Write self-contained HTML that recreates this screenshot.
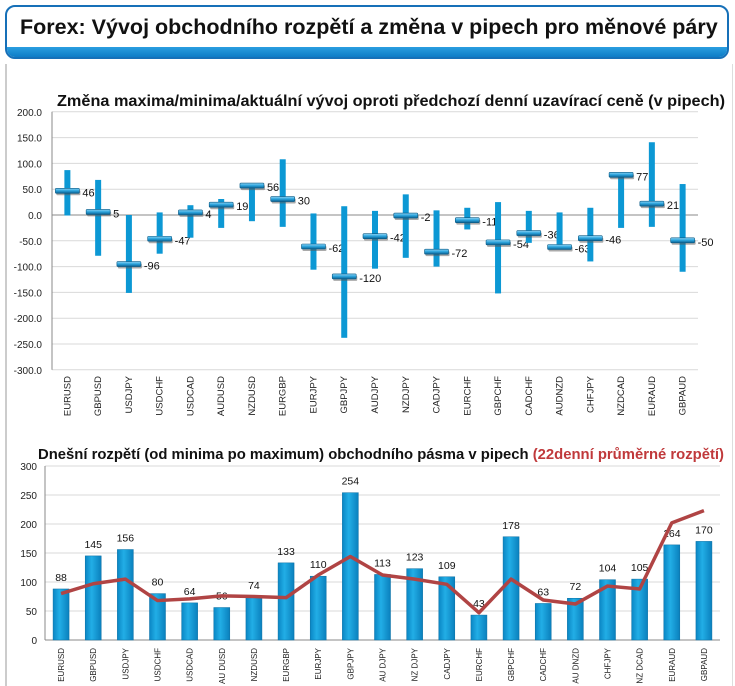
<!DOCTYPE html>
<html><head><meta charset="utf-8">
<style>
body{margin:0;width:735px;height:686px;background:#fff;font-family:"Liberation Sans",sans-serif;overflow:hidden;position:relative}
#hdr{position:absolute;left:5px;top:5px;width:720px;height:50px;border:2px solid #1670b8;border-radius:10px;overflow:hidden;background:#fff}
#hdr .strip{position:absolute;left:0;right:0;bottom:0;height:10px;background:linear-gradient(#2a9ee0,#0d7cc6)}
#hdr .t{position:absolute;left:13px;top:8px;font-size:21.5px;font-weight:bold;color:#111;white-space:nowrap}
#panel{position:absolute;left:5px;top:64px;width:725px;height:622px;border-left:2px solid #ccc;border-right:1px solid #ddd}
svg{position:absolute;left:0;top:0}
</style></head><body>
<div id="hdr"><div class="strip"></div><div class="t">Forex: Vývoj obchodního rozpětí a změna v pipech pro měnové páry</div></div>
<div id="panel"></div>
<svg id="c" width="735" height="686">
<defs>
<linearGradient id="mk" x1="0" y1="0" x2="0" y2="1"><stop offset="0" stop-color="#8fd4f5"/><stop offset="0.5" stop-color="#2aa3dc"/><stop offset="1" stop-color="#0b5f8f"/></linearGradient>
<linearGradient id="bg" x1="0" y1="0" x2="1" y2="0"><stop offset="0" stop-color="#0a86c4"/><stop offset="0.4" stop-color="#22aee6"/><stop offset="1" stop-color="#0a80bd"/></linearGradient>
</defs>
<text x="57" y="106" font-size="16" font-weight="bold" fill="#111" textLength="668" lengthAdjust="spacingAndGlyphs">Změna maxima/minima/aktuální vývoj oproti předchozí denní uzavírací ceně (v pipech)</text>
<text x="38" y="459" font-size="15" font-weight="bold" fill="#111" textLength="686" lengthAdjust="spacingAndGlyphs">Dnešní rozpětí (od minima po maximum) obchodního pásma v pipech <tspan fill="#c0393b">(22denní průměrné rozpětí)</tspan></text>
</svg>
<script>
const cats=["EURUSD","GBPUSD","USDJPY","USDCHF","USDCAD","AUDUSD","NZDUSD","EURGBP","EURJPY","GBPJPY","AUDJPY","NZDJPY","CADJPY","EURCHF","GBPCHF","CADCHF","AUDNZD","CHFJPY","NZDCAD","EURAUD","GBPAUD"];
const highs=[87,68,0,5,19,31,56,108,3,17,8,40,9,14,25,8,5,14,79,141,60];
const lows=[-1,-79,-151,-75,-44,-25,-12,-23,-106,-238,-104,-83,-100,-28,-152,-54,-63,-90,-25,-23,-110];
const current=[46,5,-96,-47,4,19,56,30,-62,-120,-42,-2,-72,-11,-54,-36,-63,-46,77,21,-50];
const topTicks=[200,150,100,50,0,-50,-100,-150,-200,-250,-300];
const cats2=["EURUSD","GBPUSD","USDJPY","USDCHF","USDCAD","AU DUSD","NZDUSD","EURGBP","EURJPY","GBPJPY","AU DJPY","NZ DJPY","CADJPY","EURCHF","GBPCHF","CADCHF","AU DNZD","CHFJPY","NZ DCAD","EURAUD","GBPAUD"];
const ranges=[88,145,156,80,64,56,74,133,110,254,113,123,109,43,178,63,72,104,105,164,170];
const avg22=[80,97,105,68,71,76,75,73,112,144,112,105,96,47,105,69,62,93,88,202,223];
const botTicks=[0,50,100,150,200,250,300];

const svg=document.getElementById('c');const NS="http://www.w3.org/2000/svg";
function mk(t,a,txt){const e=document.createElementNS(NS,t);for(const k in a)e.setAttribute(k,a[k]);if(txt!==undefined)e.textContent=txt;svg.appendChild(e);return e;}
const tx0=52,tx1=698,ty=v=>215-v*258/500,slot=(tx1-tx0)/cats.length,tcx=i=>tx0+slot*(i+0.5);
topTicks.forEach(t=>{const y=ty(t);
 const g=mk('line',{x1:tx0,x2:tx1,y1:y,y2:y,stroke:t===0?'#888':'#d9d9d9','stroke-width':1});
 
 const l=mk('text',{x:42,y:y+4,'font-size':10,'text-anchor':'end',fill:'#222'},t.toFixed(1));
 });
mk('line',{x1:tx0,x2:tx0,y1:ty(200),y2:ty(-300),stroke:'#888'});
cats.forEach((c,i)=>{const x=tcx(i);
 const b=mk('rect',{x:x-3,y:ty(highs[i]),width:6,height:ty(lows[i])-ty(highs[i]),fill:'#0c98d4'});
 
 const y=ty(current[i]);
 const s=mk('rect',{x:x-11,y:y-1,width:24,height:5,fill:'#555',opacity:0.5,rx:1});
 
 const m=mk('rect',{x:x-12,y:y-3,width:24,height:5,fill:'url(#mk)',stroke:'#0a5a85','stroke-width':0.6,rx:1});
 
 const v=mk('text',{x:x+15,y:y+5,'font-size':11,fill:'#111'},current[i]);
 
 const cl=mk('text',{x:0,y:0,'font-size':9.5,fill:'#222','text-anchor':'end',transform:`translate(${x+3},376) rotate(-90)`},c);
 });
const bx0=45,bx1=720,by=v=>640-v*174/300,bslot=(bx1-bx0)/cats2.length,bcx=i=>bx0+bslot*(i+0.5);
botTicks.forEach(t=>{const y=by(t);
 const g=mk('line',{x1:bx0,x2:bx1,y1:y,y2:y,stroke:t===0?'#888':'#d9d9d9'});
 
 const l=mk('text',{x:37,y:y+4,'font-size':10,'text-anchor':'end',fill:'#222'},t);
 });
mk('line',{x1:bx0,x2:bx0,y1:by(300),y2:by(0),stroke:'#888'});
cats2.forEach((c,i)=>{const x=bcx(i);
 const b=mk('rect',{x:x-8,y:by(ranges[i]),width:16,height:by(0)-by(ranges[i]),fill:'url(#bg)',stroke:'#0a6fa3','stroke-width':0.5});
 
 const v=mk('text',{x:x,y:by(ranges[i])-8,'font-size':10.5,'text-anchor':'middle',fill:'#111'},ranges[i]);
 
 const cl=mk('text',{x:0,y:0,'font-size':8,fill:'#222','text-anchor':'end',transform:`translate(${x+3},648) rotate(-90)`},c);
 });
const pts=avg22.map((v,i)=>bcx(i)+','+by(v)).join(' ');
const pl=mk('polyline',{points:pts,fill:'none',stroke:'#b04444','stroke-width':3.5,'stroke-linejoin':'round'});

</script>
</body></html>
